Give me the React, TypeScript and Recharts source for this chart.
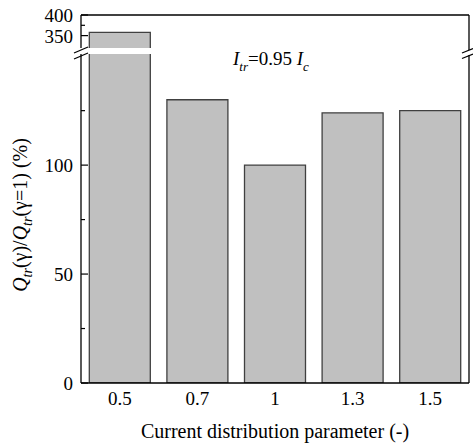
import React from 'react';
import { ComposedChart, Bar, XAxis, YAxis, ReferenceLine } from 'recharts';

const categories = ['0.5', '0.7', '1', '1.3', '1.5'];
const ratioValues = [358, 130, 100, 124, 125];
const lowerTicks = [0, 25, 50, 75, 100, 125];
const lowerLabels = [0, 50, 100];
const upperTicks = [350, 375, 400];
const upperLabels = [350, 400];
const lowerDomain: [number, number] = [0, 151];
const upperDomain: [number, number] = [320, 400];

const data = categories.map((c, i) => ({
  cat: c,
  v: ratioValues[i],
  up: ratioValues[i] > upperDomain[0] ? ratioValues[i] : null,
}));

const FONT = '"Liberation Serif", "Times New Roman", serif';
const W = 473;
const H = 446;
const AX = 81;
const RX = 469;
const FRAME = { stroke: '#000', strokeWidth: 1.3 };

const makeYTick = (labels: number[]) => (props: any) => {
  const { y, payload } = props;
  const major = labels.includes(payload.value);
  return (
    <g>
      <line x1={AX} x2={AX + (major ? 7 : 4)} y1={y} y2={y} stroke="#000" strokeWidth={1.2} />
      {major && (
        <text x={AX - 8} y={y + 7} textAnchor="end" fontFamily={FONT} fontSize={19} fill="#000">
          {payload.value}
        </text>
      )}
    </g>
  );
};

const XTick = (props: any) => {
  const { x, y, payload } = props;
  return (
    <text x={x} y={y + 22} textAnchor="middle" fontFamily={FONT} fontSize={19} fill="#000">
      {payload.value}
    </text>
  );
};

const UpperBarShape = (p: any) => {
  const { x, y, width, height } = p;
  if (height == null || height <= 0 || isNaN(height)) return <g />;
  return (
    <g>
      <rect x={x} y={y} width={width} height={height} fill="#c0c0c0" />
      <path
        d={`M${x},${y + height}V${y}H${x + width}V${y + height}`}
        fill="none"
        stroke="#404040"
        strokeWidth={1.3}
      />
    </g>
  );
};

export default function App() {
  return (
    <div style={{ position: 'absolute', left: 0, top: 0, width: W, height: H, background: '#fff' }}>
      <div style={{ position: 'absolute', left: 0, top: 0 }}>
        <ComposedChart width={W} height={H} data={data} margin={{ top: 54, right: W - RX, left: 0, bottom: 0 }} barCategoryGap="10.7%">
          <XAxis
            dataKey="cat"
            height={63}
            axisLine={FRAME}
            tickLine={false}
            tickSize={0}
            tickMargin={0}
            tick={<XTick />}
          />
          <YAxis
            width={81}
            type="number"
            domain={lowerDomain}
            ticks={lowerTicks}
            allowDataOverflow
            axisLine={FRAME}
            tickLine={false}
            tickSize={0}
            tickMargin={0}
            tick={makeYTick(lowerLabels)}
            interval={0}
          />
          <Bar dataKey="v" fill="#c0c0c0" stroke="#404040" strokeWidth={1.3} isAnimationActive={false} />
        </ComposedChart>
      </div>
      <div style={{ position: 'absolute', left: 0, top: 0 }}>
        <ComposedChart width={W} height={48} data={data} margin={{ top: 15, right: W - RX, left: 0, bottom: 0 }} barCategoryGap="10.7%">
          <XAxis dataKey="cat" hide />
          <YAxis
            width={81}
            type="number"
            domain={upperDomain}
            ticks={upperTicks}
            allowDataOverflow
            axisLine={FRAME}
            tickLine={false}
            tickSize={0}
            tickMargin={0}
            tick={makeYTick(upperLabels)}
            interval={0}
          />
          <Bar dataKey="up" shape={<UpperBarShape />} isAnimationActive={false} />
          <ReferenceLine y={upperDomain[1]} {...FRAME} />
        </ComposedChart>
      </div>
      <svg width={W} height={H} style={{ position: 'absolute', left: 0, top: 0, pointerEvents: 'none' }}>
        <g stroke="#000" strokeWidth={1.3}>
          <line x1={RX} y1={15} x2={RX} y2={50} />
          <line x1={RX} y1={55} x2={RX} y2={383} />
        </g>
        <g stroke="#000" strokeWidth={1.2}>
          <line x1={74} y1={53} x2={88} y2={47} />
          <line x1={74} y1={59} x2={88} y2={53} />
          <line x1={RX - 7} y1={53} x2={RX + 4} y2={48.5} />
          <line x1={RX - 7} y1={58.5} x2={RX + 4} y2={54} />
        </g>
        <text x={275} y={438} textAnchor="middle" fontFamily={FONT} fontSize={20} fill="#000">
          Current distribution parameter (-)
        </text>
        <text x={233} y={65} fontFamily={FONT} fontSize={19} fill="#000">
          <tspan fontStyle="italic">I</tspan>
          <tspan fontStyle="italic" fontSize={13} dy={6}>tr</tspan>
          <tspan dy={-6}>=0.95 </tspan>
          <tspan fontStyle="italic">I</tspan>
          <tspan fontStyle="italic" fontSize={13} dy={6}>c</tspan>
        </text>
        <text
          x={0}
          y={0}
          transform="translate(27,215) rotate(-90)"
          textAnchor="middle"
          fontFamily={FONT}
          fontSize={20}
          fill="#000"
        >
          <tspan fontStyle="italic">Q</tspan>
          <tspan fontStyle="italic" fontSize={14} dy={5}>tr</tspan>
          <tspan dy={-5}>(γ)/</tspan>
          <tspan fontStyle="italic">Q</tspan>
          <tspan fontStyle="italic" fontSize={14} dy={5}>tr</tspan>
          <tspan dy={-5}>(γ=1) (%)</tspan>
        </text>
      </svg>
    </div>
  );
}
